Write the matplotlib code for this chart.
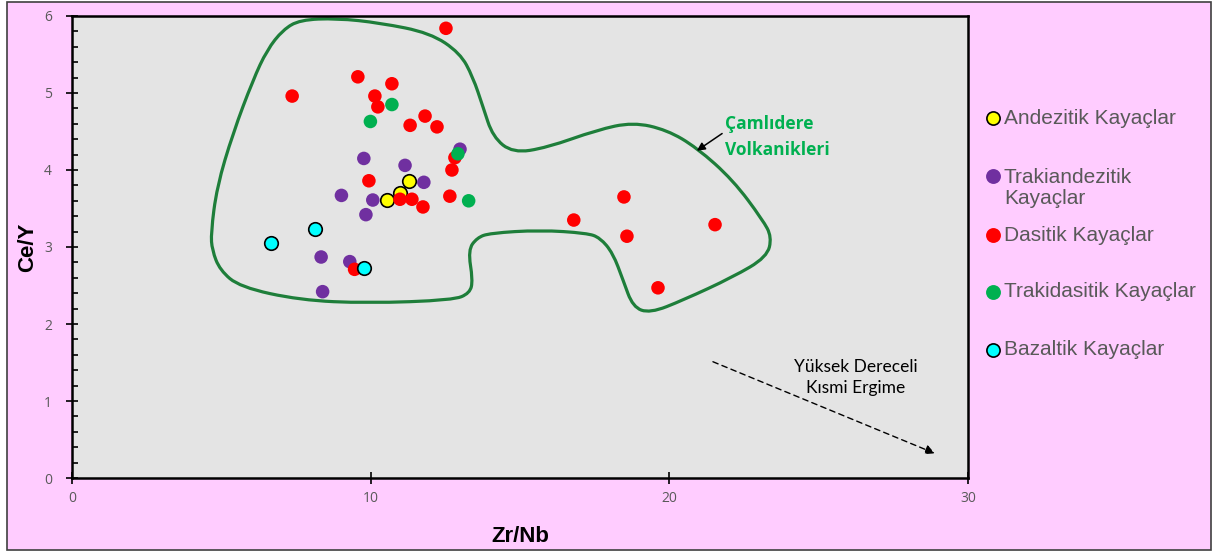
import matplotlib.pyplot as plt
import numpy as np
from matplotlib.path import Path
from matplotlib.patches import PathPatch, Rectangle
from matplotlib.lines import Line2D

# Zr/Nb - Ce/Y values per rock group
and_zr = [10.55, 10.98, 11.28]
and_ce = [3.61, 3.70, 3.86]

trak_zr = [9.77, 11.15, 11.78, 9.02, 10.07, 9.84, 8.34, 9.30, 8.39, 12.99]
trak_ce = [4.15, 4.06, 3.84, 3.67, 3.61, 3.42, 2.87, 2.81, 2.42, 4.27]

das_zr = [12.52, 7.37, 9.57, 10.71, 10.14, 10.24, 11.82, 11.32, 12.22, 12.82,
          12.72, 9.94, 12.65, 10.98, 11.38, 11.75, 16.80, 18.48, 18.58, 21.53,
          19.62, 9.46]
das_ce = [5.84, 4.96, 5.21, 5.12, 4.96, 4.82, 4.70, 4.58, 4.56, 4.16,
          4.00, 3.86, 3.66, 3.62, 3.62, 3.52, 3.35, 3.65, 3.14, 3.29,
          2.47, 2.71]

trkd_zr = [9.99, 10.71, 12.92, 13.28]
trkd_ce = [4.63, 4.85, 4.21, 3.60]

baz_zr = [6.67, 8.14, 9.78]
baz_ce = [3.05, 3.23, 2.73]

# hand-drawn field of the Çamlıdere volcanics (control points)
field_x = [7.63, 8.87, 10.31, 11.99, 12.99, 13.42, 13.76, 14.09, 14.76, 15.90,
           17.58, 18.78, 19.92, 20.92, 22.13, 23.13, 23.43, 23.27, 22.13, 20.46,
           19.35, 18.78, 18.45, 18.11, 17.68, 17.24, 15.67, 13.99, 13.56, 13.26,
           13.42, 13.32, 12.76, 9.88, 7.63, 5.62, 4.95, 4.69, 4.65, 4.85,
           5.39, 6.06, 6.53, 7.06]
field_y = [5.95, 5.97, 5.91, 5.78, 5.52, 5.21, 4.82, 4.43, 4.22, 4.29,
           4.52, 4.62, 4.52, 4.29, 3.87, 3.35, 3.13, 2.87, 2.61, 2.31,
           2.14, 2.22, 2.57, 2.92, 3.12, 3.18, 3.22, 3.18, 3.12, 2.96,
           2.57, 2.40, 2.31, 2.27, 2.31, 2.48, 2.70, 2.96, 3.18, 3.78,
           4.48, 5.17, 5.56, 5.82]

labels = ['Andezitik Kayaçlar', 'Trakiandezitik\nKayaçlar', 'Dasitik Kayaçlar',
          'Trakidasitik Kayaçlar', 'Bazaltik Kayaçlar']
colors = ['#FFFF00', '#7030A0', '#FF0000', '#00B050', '#00FFFF']
edges = ['black', 'none', 'none', 'none', 'black']

pink = '#FFCCFF'

fig = plt.figure(figsize=(12.15, 5.53), dpi=100, facecolor='white')
fig.patches.append(Rectangle((0.006, 0.006), 0.991, 0.99, transform=fig.transFigure,
                             facecolor=pink, edgecolor='#404040', lw=1.2, zorder=-10))

ax = fig.add_axes([0.0593, 0.1356, 0.7374, 0.8355])
ax.set_facecolor('#E4E4E4')
ax.set_xlim(0, 30)
ax.set_ylim(0, 6)

groups = [(and_zr, and_ce), (trak_zr, trak_ce), (das_zr, das_ce),
          (trkd_zr, trkd_ce), (baz_zr, baz_ce)]
for i, (zx, cy) in enumerate(groups):
    ax.scatter(zx, cy, s=95, c=colors[i], edgecolors=edges[i], linewidths=1.2,
               zorder=3 + i)

# closed smooth outline: quadratic beziers through midpoints
pts = np.column_stack([field_x, field_y])
n = len(pts)
verts = []
codes = []
for i in range(n):
    p0 = pts[i - 1]
    p1 = pts[i]
    p2 = pts[(i + 1) % n]
    if i == 0:
        verts.append((p0 + p1) / 2)
        codes.append(Path.MOVETO)
    verts.append(p1)
    verts.append((p1 + p2) / 2)
    codes += [Path.CURVE3, Path.CURVE3]
ax.add_patch(PathPatch(Path(verts, codes), facecolor='none', edgecolor='#1E7E3A',
                       lw=2.3, zorder=2))

ax.annotate('Çamlıdere\nVolkanikleri', xy=(20.92, 4.25), xytext=(21.86, 4.43),
            ha='left', va='center', color='#00B050', fontsize=12.5,
            fontweight='bold', family='Open Sans', linespacing=1.55,
            arrowprops=dict(arrowstyle='-|>', color='black', lw=1.1,
                            shrinkA=0, shrinkB=0, mutation_scale=12,
                            relpos=(0, 0.62)))

ax.annotate('', xy=(28.89, 0.32), xytext=(21.46, 1.51),
            arrowprops=dict(arrowstyle='-|>', color='black', lw=1, ls=(0, (4, 3)),
                            shrinkA=0, shrinkB=0, mutation_scale=14))
ax.text(26.25, 1.31, 'Yüksek Dereceli\nKısmi Ergime', ha='center', va='center',
        fontsize=12.5, family='Lato', linespacing=1.4, color='black')

for side in ['left', 'bottom', 'top', 'right']:
    ax.spines[side].set_linewidth(1.8)
    ax.spines[side].set_color('black')

ax.set_xticks([0, 10, 20, 30])
ax.set_yticks(range(0, 7))
ax.set_yticks(np.arange(0, 6.01, 0.2), minor=True)
ax.tick_params(axis='both', which='major', direction='inout', length=9, width=1.2,
               labelsize=10, labelcolor='#595959', pad=5)
ax.tick_params(axis='y', which='minor', direction='in', length=4, width=1.2)
ax.tick_params(axis='y', which='major', pad=10)
for t in ax.get_xticklabels() + ax.get_yticklabels():
    t.set_family('Open Sans')

ax.set_xlabel('Zr/Nb', fontsize=16, fontweight='bold', family='Liberation Sans',
              labelpad=14)
ax.set_ylabel('Ce/Y', fontsize=16, fontweight='bold', family='Liberation Sans',
              labelpad=4)

# legend drawn at right in figure coordinates
leg_y = [0.7866, 0.6817, 0.5750, 0.4720, 0.3671]
for i in range(len(labels)):
    fig.add_artist(Line2D([993 / 1215], [leg_y[i]], marker='o', ms=9.5, ls='none',
                          mfc=colors[i], mec=edges[i] if edges[i] != 'none' else colors[i],
                          mew=1.2, transform=fig.transFigure))
    y = leg_y[i] - (0.0217 if '\n' in labels[i] else 0)
    fig.text(1004 / 1215, y, labels[i], ha='left', va='center', fontsize=15,
             family='Liberation Sans', color='#595959', linespacing=1.12)

fig.savefig('out.png', dpi=100, facecolor=fig.get_facecolor())
